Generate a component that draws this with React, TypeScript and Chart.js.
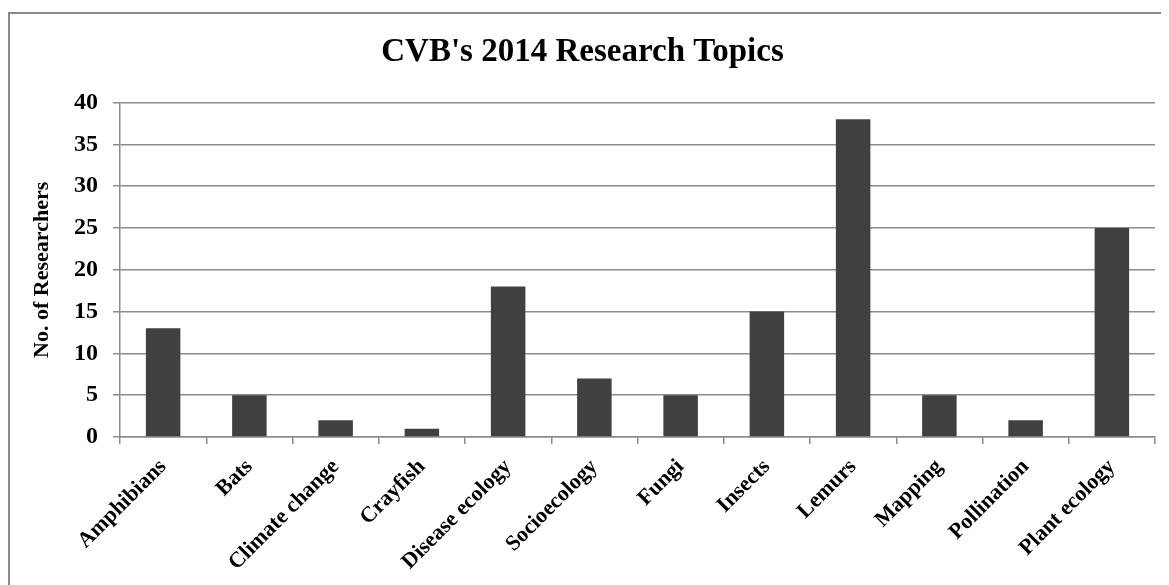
import React, { useEffect, useRef } from "react";
import { Chart, registerables } from "chart.js";

Chart.register(...registerables);

const categories = [
  "Amphibians",
  "Bats",
  "Climate change",
  "Crayfish",
  "Disease ecology",
  "Socioecology",
  "Fungi",
  "Insects",
  "Lemurs",
  "Mapping",
  "Pollination",
  "Plant ecology",
];
const researchers = [13, 5, 2, 1, 18, 7, 5, 15, 38, 5, 2, 25];
const titleText = "CVB's 2014 Research Topics";
const yTitle = "No. of Researchers";

const FONT = "'Liberation Serif', 'Times New Roman', serif";
const GRID = "#8c8c8c";

export default function App() {
  const ref = useRef<HTMLCanvasElement | null>(null);
  useEffect(() => {
    document.body.style.overflow = "hidden";
    document.documentElement.style.overflow = "hidden";
    if (!ref.current) return;
    const chart = new Chart(ref.current, {
      type: "bar",
      data: {
        labels: categories,
        datasets: [
          {
            data: researchers,
            backgroundColor: "#404040",
            borderWidth: 0,
            barPercentage: 0.4,
            categoryPercentage: 1,
          },
        ],
      },
      options: {
        animation: false,
        responsive: false,
        devicePixelRatio: 1,
        layout: { padding: { top: 0, right: 14, bottom: 0, left: 0 } },
        plugins: {
          legend: { display: false },
          tooltip: { enabled: false },
          title: {
            display: true,
            text: titleText,
            color: "#000",
            font: { family: FONT, size: 33, weight: "bold", lineHeight: 1.2 },
            padding: { top: 19, bottom: 30 },
          },
        },
        scales: {
          x: {
            offset: true,
            grid: {
              offset: true,
              drawOnChartArea: false,
              drawTicks: true,
              tickLength: 7,
              color: GRID,
              lineWidth: 1.5,
            },
            border: { display: true, color: GRID, width: 1.5 },
            ticks: {
              color: "#000",
              font: { family: FONT, size: 22, weight: "bold" },
              maxRotation: 45,
              minRotation: 45,
              padding: 10,
              autoSkip: false,
            },
            afterFit: (scale: any) => {
              scale.height = 148;
            },
          },
          y: {
            min: 0,
            max: 40,
            ticks: {
              stepSize: 5,
              color: "#000",
              font: { family: FONT, size: 24, weight: "bold" },
              padding: 15,
            },
            grid: {
              color: GRID,
              lineWidth: 1.5,
              drawTicks: true,
              tickLength: 7,
            },
            border: { display: true, color: GRID, width: 1.5 },
            title: {
              display: true,
              text: yTitle,
              color: "#000",
              font: { family: FONT, size: 22, weight: "bold", lineHeight: 1.2 },
              padding: { top: 19, bottom: 0 },
            },
            afterFit: (scale: any) => {
              scale.width = 110;
            },
          },
        },
      },
    });
    return () => chart.destroy();
  }, []);
  return (
    <div style={{ paddingTop: 4 }}>
      <div
        style={{
          borderTop: "2px solid #8a8a8a",
          borderLeft: "2px solid #8a8a8a",
          width: 1159,
          height: 571,
        }}
      >
        <canvas ref={ref} width={1159} height={571} style={{ display: "block" }} />
      </div>
    </div>
  );
}
